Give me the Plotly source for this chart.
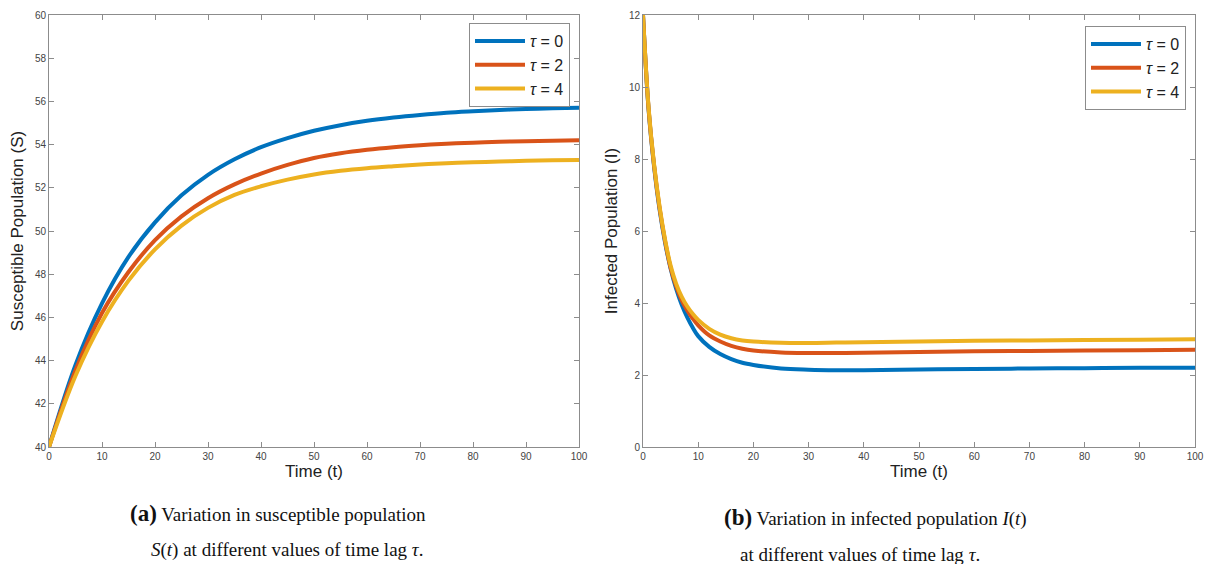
import plotly.graph_objects as go

# ---------------- data ----------------
t_s = [0, 5, 10, 15, 20, 25, 30, 35, 40, 45, 50, 55, 60, 65, 70, 75, 80, 85, 90, 95, 100]
s_tau0 = [40, 43.8, 46.65, 48.8, 50.4, 51.65, 52.6, 53.32, 53.88, 54.3, 54.64, 54.9,
          55.1, 55.25, 55.37, 55.47, 55.54, 55.6, 55.65, 55.68, 55.71]
s_tau2 = [40, 43.55, 46.2, 48.1, 49.58, 50.68, 51.52, 52.16, 52.66, 53.06, 53.38, 53.6,
          53.76, 53.88, 53.97, 54.04, 54.09, 54.13, 54.16, 54.18, 54.2]
s_tau4 = [40, 43.3, 45.8, 47.7, 49.15, 50.25, 51.07, 51.67, 52.07, 52.38, 52.62, 52.79,
          52.91, 53.0, 53.08, 53.14, 53.18, 53.22, 53.25, 53.27, 53.29]

t_i = [0, 1, 2, 3, 4, 5, 6, 7, 8, 9, 10, 12, 14, 16, 18, 20, 25, 30, 35, 40, 50, 60,
       70, 80, 90, 100]
i_tau0 = [12, 9.4, 7.8, 6.6, 5.68, 4.96, 4.4, 3.96, 3.61, 3.32, 3.08, 2.78, 2.58, 2.44,
          2.34, 2.28, 2.18, 2.145, 2.13, 2.13, 2.15, 2.17, 2.18, 2.19, 2.2, 2.2]
i_tau2 = [12, 9.42, 7.83, 6.64, 5.72, 4.98, 4.47, 4.08, 3.8, 3.57, 3.38, 3.1, 2.93, 2.81,
          2.73, 2.68, 2.625, 2.61, 2.61, 2.62, 2.64, 2.66, 2.67, 2.68, 2.69, 2.7]
i_tau4 = [12, 9.45, 7.86, 6.68, 5.76, 5.04, 4.54, 4.18, 3.91, 3.7, 3.53, 3.28, 3.12, 3.02,
          2.96, 2.93, 2.895, 2.89, 2.9, 2.91, 2.93, 2.95, 2.96, 2.97, 2.98, 2.99]

labels = ["<i>τ</i> = 0", "<i>τ</i> = 2", "<i>τ</i> = 4"]
colors = ["#0072BD", "#D95319", "#EDB120"]

W, H = 1211, 564


def px(x):
    return x / W


def py(y):
    return 1 - y / H


fig = go.Figure()

for ys, lab, col in zip([s_tau0, s_tau2, s_tau4], labels, colors):
    fig.add_trace(go.Scatter(x=t_s, y=ys, mode="lines", name=lab,
                             line=dict(color=col, width=4, shape="spline"),
                             xaxis="x", yaxis="y", legend="legend"))

for ys, lab, col in zip([i_tau0, i_tau2, i_tau4], labels, colors):
    fig.add_trace(go.Scatter(x=t_i, y=ys, mode="lines", name=lab,
                             line=dict(color=col, width=4, shape="spline"),
                             xaxis="x2", yaxis="y2", legend="legend2"))

ax_common = dict(showline=True, linecolor="#8c8c8c", linewidth=1, mirror="ticks",
                 ticks="inside", ticklen=5, tickcolor="#8c8c8c", showgrid=False,
                 zeroline=False, automargin=False,
                 tickfont=dict(family="Liberation Sans", size=10, color="#444"))

yd = [py(447), py(15)]

fig.update_layout(
    width=W, height=H, plot_bgcolor="white", paper_bgcolor="white",
    margin=dict(l=0, r=0, t=0, b=0, autoexpand=False),
    font=dict(family="Liberation Sans", color="#222"),
    xaxis=dict(domain=[px(49), px(579)], range=[0, 100], dtick=10, anchor="y",
               title=dict(text="Time (t)", font=dict(size=17), standoff=4), **ax_common),
    yaxis=dict(domain=yd, range=[40, 60], dtick=2, anchor="x",
               title=dict(text="Susceptible Population (S)", font=dict(size=17), standoff=6),
               **ax_common),
    xaxis2=dict(domain=[px(643), px(1195)], range=[0, 100], dtick=10, anchor="y2",
                title=dict(text="Time (t)", font=dict(size=17), standoff=4), **ax_common),
    yaxis2=dict(domain=yd, range=[0, 12], dtick=2, anchor="x2",
                title=dict(text="Infected Population (I)", font=dict(size=17), standoff=6),
                **ax_common),
    legend=dict(x=px(570), y=py(23), xanchor="right", yanchor="top",
                bgcolor="white", bordercolor="#8c8c8c", borderwidth=1,
                font=dict(size=16), itemwidth=50, tracegroupgap=0),
    legend2=dict(x=px(1186), y=py(26), xanchor="right", yanchor="top",
                 bgcolor="white", bordercolor="#8c8c8c", borderwidth=1,
                 font=dict(size=16), itemwidth=50, tracegroupgap=0),
)

cap_font = dict(family="Liberation Serif", size=19, color="#111")
big = "<b><span style='font-size:23px'>%s</span></b>"
captions = [
    (big % "(a)" + " Variation in susceptible population", 278, 513),
    ("<i>S</i>(<i>t</i>) at different values of time lag <i>τ</i>.", 287, 550),
    (big % "(b)" + " Variation in infected population <i>I</i>(<i>t</i>)", 875, 517),
    ("at different values of time lag <i>τ</i>.", 860, 554),
]
for txt, cx, cy in captions:
    fig.add_annotation(text=txt, x=px(cx), y=py(cy), xref="paper", yref="paper",
                       xanchor="center", yanchor="middle", showarrow=False, font=cap_font)

# drop the default 8px page margin so the figure fills the window exactly
fig.write_html("out.html", config={"displayModeBar": False},
               post_script="document.body.style.margin='0';document.body.style.overflow='hidden';")
